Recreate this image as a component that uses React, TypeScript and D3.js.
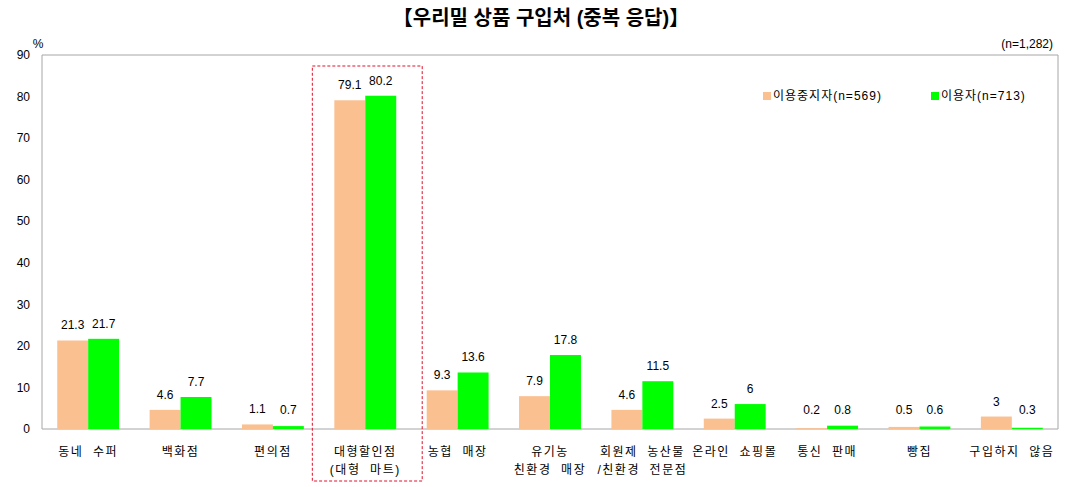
import React from "react";
import * as d3 from "d3";

const categories: string[][] = [
  ["동네  수퍼"],
  ["백화점"],
  ["편의점"],
  ["대형할인점", "(대형  마트)"],
  ["농협  매장"],
  ["유기농", "친환경  매장"],
  ["회원제  농산물", "/친환경  전문점"],
  ["온라인  쇼핑몰"],
  ["통신  판매"],
  ["빵집"],
  ["구입하지  않음"],
];
const stoppedUsers = [21.3, 4.6, 1.1, 79.1, 9.3, 7.9, 4.6, 2.5, 0.2, 0.5, 3];
const users = [21.7, 7.7, 0.7, 80.2, 13.6, 17.8, 11.5, 6, 0.8, 0.6, 0.3];
const seriesNames = ["이용중지자(n=569)", "이용자(n=713)"];
const yTicks = [0, 10, 20, 30, 40, 50, 60, 70, 80, 90];

const W = 1065;
const H = 487;
const left = 42;
const right = 1058;
const top = 55;
const bottom = 429;
const colors = ["#FAC090", "#00FF00"];
const font = "'Liberation Sans', Arial, 'Noto Sans CJK KR', sans-serif";

export default function App() {
  const x = d3
    .scaleBand<number>()
    .domain(categories.map((_, i) => i))
    .range([left, right])
    .paddingInner(0.33)
    .paddingOuter(0.165);
  const y = d3.scaleLinear().domain([0, 90]).range([bottom, top]);
  const bw = x.bandwidth() / 2;
  const series = [stoppedUsers, users];

  const hx0 = x(3)! - 22;
  const hx1 = x(3)! + x.bandwidth() + 26;

  return (
    <svg
      width={W}
      height={H}
      style={{ position: "absolute", left: 0, top: 0, background: "#fff" }}
      fontFamily={font}
    >
      <text x={541} y={25} textAnchor="middle" fontSize={20} fontWeight="bold" fill="#000">
        【우리밀 상품 구입처 (중복 응답)】
      </text>
      <text x={38} y={48} textAnchor="middle" fontSize={12} fill="#000">%</text>
      <text x={1053} y={48} textAnchor="end" fontSize={12} fill="#000">(n=1,282)</text>

      {/* frame */}
      <line x1={left} x2={right} y1={top} y2={top} stroke="#A6A6A6" />
      <line x1={right} x2={right} y1={top} y2={bottom} stroke="#A6A6A6" />
      <line x1={left} x2={left} y1={top} y2={bottom} stroke="#A6A6A6" />
      <line x1={left} x2={right} y1={bottom} y2={bottom} stroke="#A6A6A6" />

      {yTicks.map((t) => (
        <text key={t} x={30} y={y(t)} dy="0.35em" textAnchor="end" fontSize={12} fill="#000">
          {t}
        </text>
      ))}

      {series.map((vals, s) =>
        vals.map((v, i) => (
          <rect
            key={`${s}-${i}`}
            x={x(i)! + s * bw}
            y={y(v)}
            width={bw}
            height={bottom - y(v)}
            fill={colors[s]}
          />
        ))
      )}
      {series.map((vals, s) =>
        vals.map((v, i) => (
          <text
            key={`l${s}-${i}`}
            x={x(i)! + s * bw + bw / 2}
            y={Math.min(y(v) - 11, 414)}
            textAnchor="middle"
            fontSize={12}
            fill="#000"
          >
            {v}
          </text>
        ))
      )}

      {categories.map((lines, i) =>
        lines.map((ln, j) => (
          <text
            key={`c${i}-${j}`}
            x={x(i)! + x.bandwidth() / 2}
            y={456 + j * 18}
            textAnchor="middle"
            fontSize={12}
            fill="#000"
            style={{ whiteSpace: "pre" }}
            letterSpacing={1.5}
          >
            {ln}
          </text>
        ))
      )}

      <rect
        x={hx0}
        y={66}
        width={hx1 - hx0}
        height={415}
        fill="none"
        stroke="#E0102A"
        strokeDasharray="3,2"
      />

      {seriesNames.map((n, s) => (
        <g key={n} transform={`translate(${s === 0 ? 763 : 931},96)`}>
          <rect x={0} y={-4} width={8} height={8} fill={colors[s]} />
          <text x={10} y={0} dy="0.35em" fontSize={12} fill="#000" letterSpacing={1}>
            {n}
          </text>
        </g>
      ))}
    </svg>
  );
}
